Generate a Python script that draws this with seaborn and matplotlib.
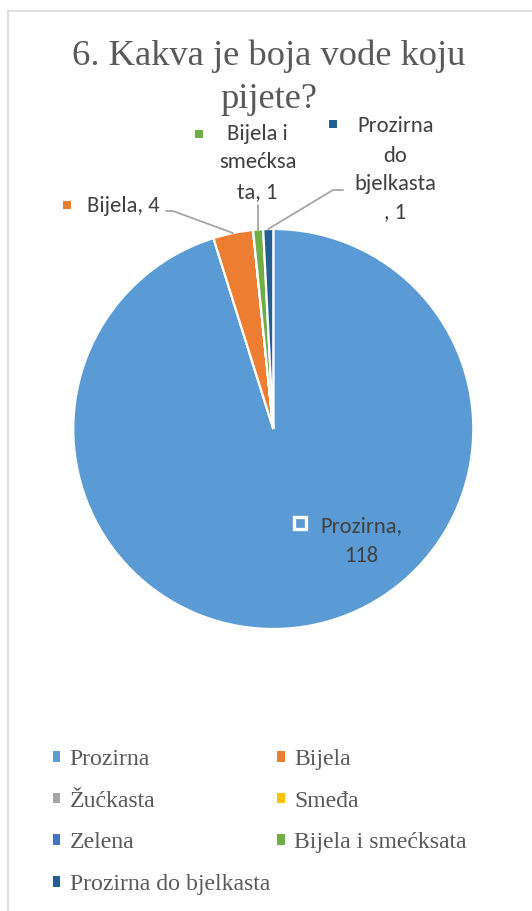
import numpy as np
import matplotlib
matplotlib.use("Agg")
import matplotlib.pyplot as plt
import seaborn as sns
from matplotlib.lines import Line2D
from matplotlib.patches import Rectangle

categories = ["Prozirna", "Bijela", "Žućkasta", "Smeđa", "Zelena",
              "Bijela i smećksata", "Prozirna do bjelkasta"]
values = [118, 4, 0, 0, 0, 1, 1]
colors = ["#5B9BD5", "#ED7D31", "#A5A5A5", "#FFC000", "#4472C4", "#70AD47", "#255E91"]
title_lines = ["6. Kakva je boja vode koju", "pijete?"]

sns.set_theme(style="white")
SERIF = ["Liberation Serif", "DejaVu Serif"]
plt.rcParams["font.family"] = SERIF

W, H = 532, 911
fig = plt.figure(figsize=(W / 100, H / 100), dpi=100)
ax = fig.add_axes([0, 0, 1, 1])
PX = 0.72  # points per pixel at dpi 100

cx, cy, r = 273.3, H - 429, 200
wedges, _ = ax.pie(values, colors=colors, startangle=90, counterclock=False,
                   center=(cx, cy), radius=r,
                   wedgeprops=dict(edgecolor="white", linewidth=1.6))
ax.set_xlim(0, W)
ax.set_ylim(0, H)
ax.set_aspect("auto")
ax.axis("off")

def Y(y):
    return H - y

# frame
fig.add_artist(Line2D([8 / W, 8 / W], [0, 1 - 11 / H], color="#D9D9D9", lw=1.2))
fig.add_artist(Line2D([8 / W, 1], [1 - 11 / H, 1 - 11 / H], color="#D9D9D9", lw=1.2))

# title
for txt, yy in zip(title_lines, [65, 108]):
    ax.text(268.5, Y(yy), txt, ha="center", va="baseline", fontsize=36.5 * PX,
            color="#595959", family=SERIF)

lab_font = ["Carlito", "Lato", "DejaVu Sans"]
lab_size = 22.5 * PX
lab_color = "#404040"

def mid_point(w, frac=1.0):
    ang = np.deg2rad((w.theta1 + w.theta2) / 2)
    return cx + r * frac * np.cos(ang), cy + r * frac * np.sin(ang)

def marker(x, y, c, size=7, edge=None, lw=0):
    ax.add_patch(Rectangle((x - size / 2, Y(y) - size / 2), size, size,
                           facecolor=c, edgecolor=edge if edge else c,
                           lw=lw, zorder=5))

def label(x, y, txt, ha="center"):
    ax.text(x, Y(y), txt, ha=ha, va="baseline", fontsize=lab_size,
            color=lab_color, family=lab_font)

# Bijela, 4
ex, ey = mid_point(wedges[1])
ax.plot([166, 173, ex], [Y(211), Y(211), ey], color="#A6A6A6", lw=1.3)
marker(67, 205, colors[1], size=8)
label(87, 212, f"{categories[1]}, {values[1]}", ha="left")

# Bijela i smećksata, 1
ex, ey = mid_point(wedges[5])
ax.plot([ex, ex], [Y(205), ey], color="#A6A6A6", lw=1.3)
marker(199, 134, colors[5], size=8)
label(257.5, 140, "Bijela i")
label(257.5, 168, "smećksa")
label(257.5, 198, f"ta, {values[5]}")

# Prozirna do bjelkasta, 1
ex, ey = mid_point(wedges[6])
ax.plot([343, 333, ex], [Y(190), Y(190), ey], color="#A6A6A6", lw=1.3)
marker(333, 124, colors[6], size=8)
for txt, yy in [("Prozirna", 132), ("do", 162), ("bjelkasta", 190), (f", {values[6]}", 218)]:
    label(395.5, yy, txt)

# Prozirna, 118
marker(300, 523, colors[0], size=12, edge="white", lw=2.4)
label(320, 532, f"{categories[0]},", ha="left")
label(361, 562, f"{values[0]}")

# legend (row-major order for 2 columns)
order = [0, 2, 4, 6, 1, 3, 5]
handles = [Rectangle((0, 0), 1, 1, facecolor=colors[i], edgecolor="none") for i in order]
labels = [categories[i] for i in order]
leg = fig.legend(handles, labels, ncol=2, loc="upper left",
                 bbox_to_anchor=(41 / W, 1 - 737 / H), frameon=False, borderpad=0,
                 prop=dict(family=SERIF, size=23.8 * PX),
                 handlelength=0.31, handleheight=0.31, handletextpad=0.4,
                 columnspacing=0.31, labelspacing=0.87, labelcolor="#595959")

fig.savefig("out.png", dpi=100)
